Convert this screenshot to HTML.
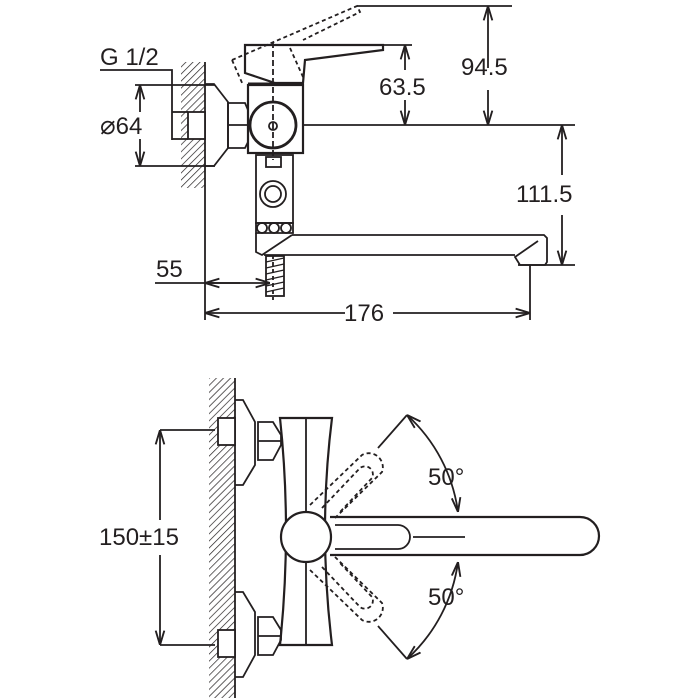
<!DOCTYPE html>
<html><head><style>html,body{margin:0;padding:0;background:#fff}svg{display:block}text{font-family:"Liberation Sans",sans-serif;fill:#231f20}</style></head>
<body>
<svg width="700" height="700" viewBox="0 0 700 700" xmlns="http://www.w3.org/2000/svg">
<defs>
<pattern id="h" width="5" height="5" patternUnits="userSpaceOnUse" patternTransform="rotate(45)"><line x1="0" y1="0" x2="0" y2="5" stroke="#231f20" stroke-width="1.4"/></pattern>
<marker id="a" viewBox="0 0 10 10" refX="10" refY="5" markerWidth="8" markerHeight="8" orient="auto-start-reverse"><path d="M0,2 L10,5 L0,8" fill="none" stroke="#231f20" stroke-width="1.3"/></marker>
</defs>
<g fill="none" stroke="#231f20" stroke-width="1.8">
<!-- TOP VIEW -->
<rect x="181" y="62" width="24" height="126" fill="url(#h)" stroke="none"/>
<line x1="205" y1="62" x2="205" y2="320"/>
<rect x="188" y="112" width="17" height="27" fill="#fff"/>
<polyline points="100,70 172,70 172,140"/>
<line x1="135" y1="85" x2="215" y2="85"/><line x1="135" y1="166" x2="215" y2="166"/>
<line x1="140" y1="112" x2="140" y2="85" marker-end="url(#a)"/><line x1="140" y1="139" x2="140" y2="166" marker-end="url(#a)"/>
<line x1="172" y1="112" x2="188" y2="112"/><line x1="172" y1="139" x2="188" y2="139"/>
<path d="M205,84 L214,84 L228,102 L228,148 L214,166 L205,166"/>
<path d="M228,103 L245,103 L248,110 L248,142 L245,148 L228,148 Z"/>
<line x1="229" y1="125" x2="247" y2="125"/>
<rect x="248" y="85" width="55" height="68" stroke-width="2.2"/>
<circle cx="273" cy="125" r="23" stroke-width="2.8"/>
<circle cx="273" cy="126" r="4"/>
<path d="M245,45 L383,45 L383,50 L305,60 L303,83 L275,83 L245,73 Z" stroke-width="2.2"/>
<line x1="248" y1="84" x2="303" y2="84" stroke-width="3"/>
<path d="M232,60 L357,6 L360,12 L303,40 M232,60 L243,85 M290,48 L303,77" stroke-dasharray="4,3"/>
<line x1="273" y1="42" x2="273" y2="160" stroke-dasharray="6,3"/>
<line x1="357" y1="6" x2="512" y2="6"/>
<line x1="383" y1="45" x2="412" y2="45"/>
<line x1="303" y1="125" x2="575" y2="125"/>
<line x1="488" y1="68" x2="488" y2="6" marker-end="url(#a)"/><line x1="488" y1="90" x2="488" y2="125" marker-end="url(#a)"/>
<line x1="405" y1="70" x2="405" y2="45" marker-end="url(#a)"/><line x1="405" y1="100" x2="405" y2="125" marker-end="url(#a)"/>
<line x1="562" y1="175" x2="562" y2="125" marker-end="url(#a)"/><line x1="562" y1="215" x2="562" y2="265" marker-end="url(#a)"/>
<line x1="518" y1="265" x2="575" y2="265"/>
<rect x="256" y="155" width="37" height="68"/>
<rect x="266" y="157" width="15" height="10"/>
<circle cx="273" cy="194" r="13"/><circle cx="273" cy="194" r="8"/>
<path d="M256,223 h37 v10 h-37 z"/>
<circle cx="262" cy="228" r="5"/><circle cx="274" cy="228" r="5"/><circle cx="286" cy="228" r="5"/>
<path d="M256,233 L256,252 L262,255 L292,235"/>
<path d="M292,235 L544,235 L547,238 L547,262 L545,265 L520,265 L515,257 L538,241 M264,255 L515,255"/>
<rect x="266" y="256" width="18" height="40"/>
<path d="M266,262 L284,258 M266,268 L284,264 M266,274 L284,270 M266,280 L284,276 M266,286 L284,282 M266,292 L284,288" stroke-width="1.4"/>
<line x1="273" y1="255" x2="273" y2="300" stroke-dasharray="4,3"/>
<line x1="155" y1="283" x2="270" y2="283" marker-end="url(#a)"/>
<line x1="205" y1="283" x2="240" y2="283" marker-start="url(#a)"/>
<line x1="530" y1="265" x2="530" y2="320"/>
<line x1="345" y1="313" x2="205" y2="313" marker-end="url(#a)"/><line x1="393" y1="313" x2="530" y2="313" marker-end="url(#a)"/>
<!-- BOTTOM VIEW -->
<rect x="209" y="378" width="26" height="320" fill="url(#h)" stroke="none"/>
<line x1="235" y1="378" x2="235" y2="698"/>
<rect x="218" y="418" width="17" height="27" fill="#fff"/>
<path d="M235,400 L243,400 L255,422 L255,465 L243,485 L235,485"/>
<path d="M258,422 L273,422 L281,435 L281,445 L273,460 L258,460 Z M258,441 L281,441"/>
<rect x="218" y="630" width="17" height="27" fill="#fff"/>
<path d="M235,592 L243,592 L255,612 L255,655 L243,677 L235,677"/>
<path d="M258,617 L273,617 L281,630 L281,640 L273,655 L258,655 Z M258,636 L281,636"/>
<path d="M280,418 L332,418 Q318,530 332,645 L280,645 Q292,530 280,418 Z" stroke-width="2.2"/>
<line x1="306" y1="418" x2="306" y2="645"/>
<line x1="160" y1="430" x2="215" y2="430"/><line x1="160" y1="645" x2="215" y2="645"/>
<line x1="160" y1="520" x2="160" y2="430" marker-end="url(#a)"/><line x1="160" y1="555" x2="160" y2="645" marker-end="url(#a)"/>
<path d="M330,517 L580,517 A19,19 0 0 1 580,555 L330,555" stroke-width="2.2"/>
<path d="M335,525 L398,525 A12,12 0 0 1 398,549 L335,549"/>
<line x1="413" y1="537" x2="465" y2="537"/>
<path d="M310,505 L362,455 A14,14 0 0 1 382,472 L335,518 M310,570 L362,620 A14,14 0 0 0 382,603 L335,557" stroke-dasharray="4,3"/>
<path d="M322,508 L360,468 A8,8 0 0 1 372,478 L340,512 M322,567 L360,607 A8,8 0 0 0 372,597 L340,563" stroke-dasharray="4,3"/>
<circle cx="306" cy="537" r="25" fill="#fff" stroke-width="2.2"/>
<path d="M378,448 L407,415 M378,626 L407,659"/>
<path d="M407,415 A160,160 0 0 1 458,512" marker-start="url(#a)" marker-end="url(#a)"/>
<path d="M458,562 A160,160 0 0 1 407,659" marker-start="url(#a)" marker-end="url(#a)"/>
</g>
<g font-size="24">
<text x="100" y="65">G 1/2</text>
<text x="100" y="134"><tspan font-size="26">⌀</tspan>64</text>
<text x="379" y="95">63.5</text>
<text x="461" y="75">94.5</text>
<text x="516" y="202">111.5</text>
<text x="156" y="277">55</text>
<text x="344" y="321">176</text>
<text x="99" y="545">150±15</text>
<text x="428" y="485">50°</text>
<text x="428" y="605">50°</text>
</g>
</svg>
</body></html>
